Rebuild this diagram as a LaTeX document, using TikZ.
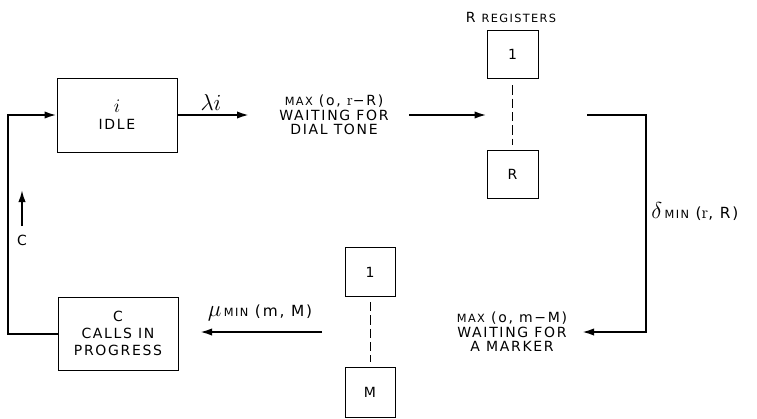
\documentclass[tikz,border=0pt]{standalone}
\usepackage{fontspec}
\newfontfamily\lab[LetterSpace=12]{DejaVu Sans}
\usetikzlibrary{arrows.meta,calc}
\newcommand\sm[1]{{\fontsize{8.5}{10}\selectfont #1}}
\begin{document}
\begin{tikzpicture}[x=0.75pt,y=-0.75pt,
  box/.style={draw,line width=0.6pt,inner sep=0pt,align=center,font=\lab\fontsize{10.5}{13}\selectfont},
  conn/.style={line width=1.5pt},
  arr/.style={conn,-{Latex[length=9pt,width=5.5pt]}},
  lbl/.style={font=\lab\fontsize{10.5}{11}\selectfont,align=center,inner sep=0pt},
  rate/.style={font=\lab\fontsize{11.5}{12}\selectfont,inner sep=0pt},
  dsh/.style={line width=0.7pt,dash pattern=on 7pt off 3pt}
  ]
\useasboundingbox (0,0) rectangle (757,418);
% boxes
\node[box,minimum width=90pt,minimum height=55.5pt] (idle) at (117,115) {{\fontsize{15}{13}\selectfont$i$}\\IDLE};
\node[box,minimum width=90pt,minimum height=54.75pt] (calls) at (118,333.5) {C\\CALLS IN\\PROGRESS};
\node[box,minimum width=38.25pt,minimum height=36pt] (r1) at (512.5,54) {1};
\node[box,minimum width=38.25pt,minimum height=36pt] (rr) at (512.5,174) {R};
\node[box,minimum width=37.5pt,minimum height=37pt] (m1) at (370,272) {1};
\node[box,minimum width=37.5pt,minimum height=37pt] (mm) at (370,392.5) {M};
\draw[dsh] ($(r1.south)+(0,7)$) -- ($(rr.north)+(0,-5)$);
\draw[dsh] ($(m1.south)+(0,5)$) -- ($(mm.north)+(0,-5)$);
% labels
\node[lbl] (w1) at (334,115) {\sm{MAX} (o, {\rmfamily\fontsize{12}{11}\selectfont r}−R)\\WAITING FOR\\DIAL TONE};
\node[lbl] (w2) at (512,332) {\sm{MAX} (o, m−M)\\WAITING FOR\\A MARKER};
\node[lbl] (regs) at (511,17) {R \sm{REGISTERS}};
\node[rate,anchor=west] (dl) at (651,212) {{\fontsize{16}{12}\selectfont$\delta$}\,\sm{MIN} ({\rmfamily\fontsize{13}{11}\selectfont r}, R)};
\node[rate] (ml) at (260,313) {{\fontsize{16}{12}\selectfont$\mu$}\,\sm{MIN} (m, M)};
\node[lbl,font=\fontsize{16}{12}\selectfont] (ll) at (211,102) {$\lambda i$};
\node[lbl] (cl) at (22,240) {C};
% coordinates
\coordinate (w1in) at (249,115);
\coordinate (w1out) at (409,115);
\coordinate (rout) at (587,115);
\coordinate (rc) at (646,115);
\coordinate (w2in) at (582,332);
\coordinate (mout) at (322,332);
\coordinate (cin) at (200,332);
\coordinate (lc) at (8,333.5);
\coordinate (cb) at (22,226);
\coordinate (ct) at (22,190);
% connectors
\draw[arr] (idle.east) -- (w1in);
\draw[arr] (w1out) -- (w1out -| r1.west);
\draw[arr] (rout) -- (rc) |- (w2in);
\draw[arr] (mout) -- (cin);
\draw[arr] (calls.west) -- (lc) |- (idle.west);
\draw[arr,line width=1.3pt] (cb) -- (ct);
\end{tikzpicture}
\end{document}
